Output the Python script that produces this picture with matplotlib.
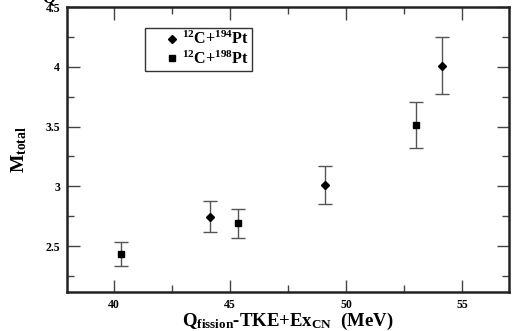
import matplotlib.pyplot as plt
from matplotlib.ticker import MultipleLocator
from matplotlib.lines import Line2D

# data
x_194 = [44.13, 49.08, 54.1]
y_194 = [2.745, 3.01, 4.01]
err_194 = [0.13, 0.16, 0.24]

x_198 = [40.33, 45.33, 53.0]
y_198 = [2.435, 2.69, 3.515]
err_198 = [0.10, 0.125, 0.19]

labels = [r'$^{12}$C+$^{194}$Pt', r'$^{12}$C+$^{198}$Pt']

plt.rcParams['font.family'] = 'Liberation Serif'
plt.rcParams['font.weight'] = 'bold'
plt.rcParams['mathtext.fontset'] = 'custom'
plt.rcParams['mathtext.rm'] = 'Liberation Serif:bold'
plt.rcParams['mathtext.it'] = 'Liberation Serif:bold'
plt.rcParams['mathtext.bf'] = 'Liberation Serif:bold'

fig = plt.figure(figsize=(5.2, 3.31), dpi=100)
ax = fig.add_axes([67/520, 1 - 292/331, 442/520, 285/331])

ax.errorbar(x_194, y_194, yerr=err_194, fmt='D', ms=4, color='black',
            ecolor='#555555', elinewidth=1, capsize=5, capthick=1)
ax.errorbar(x_198, y_198, yerr=err_198, fmt='s', ms=5, color='black',
            ecolor='#555555', elinewidth=1, capsize=5, capthick=1)

ax.set_xlim(38, 57)
ax.set_ylim(2.117, 4.5)
ax.xaxis.set_major_locator(MultipleLocator(5))
ax.xaxis.set_minor_locator(MultipleLocator(2.5))
ax.yaxis.set_major_locator(MultipleLocator(0.5))
ax.yaxis.set_minor_locator(MultipleLocator(0.25))
ax.tick_params(which='both', direction='in', top=True, right=True,
               labelsize=8.5, pad=5, color='#444444')
ax.tick_params(which='major', length=9, width=1)
ax.tick_params(which='minor', length=5, width=1)
ax.yaxis.set_major_formatter(plt.FuncFormatter(lambda v, p: f'{v:g}'))
for s in ax.spines.values():
    s.set_linewidth(1.8)
    s.set_color('#222222')

ax.set_xlabel(r'Q$_{\mathregular{fission}}$-TKE+Ex$_{\mathregular{CN}}$  (MeV)',
              fontsize=13.5, fontweight='bold', labelpad=0)
ax.set_ylabel(r'M$_{\mathregular{total}}$', fontsize=14, fontweight='bold', labelpad=12)

handles = [Line2D([], [], marker='D', ms=4, color='black', ls='none'),
           Line2D([], [], marker='s', ms=5, color='black', ls='none')]
leg = ax.legend(handles, labels, loc='upper left', bbox_to_anchor=(78/442, 1 - 21/285),
                fontsize=11.5, frameon=True, fancybox=False, edgecolor='black',
                handletextpad=-0.9, borderpad=0.2, labelspacing=0.12,
                handlelength=3.0, borderaxespad=0)
leg.get_frame().set_linewidth(1)

fig.text(49/520, 1.0 + 2/331, 'Q', fontsize=12, ha='center', va='center')

fig.savefig('out.png', dpi=100)
